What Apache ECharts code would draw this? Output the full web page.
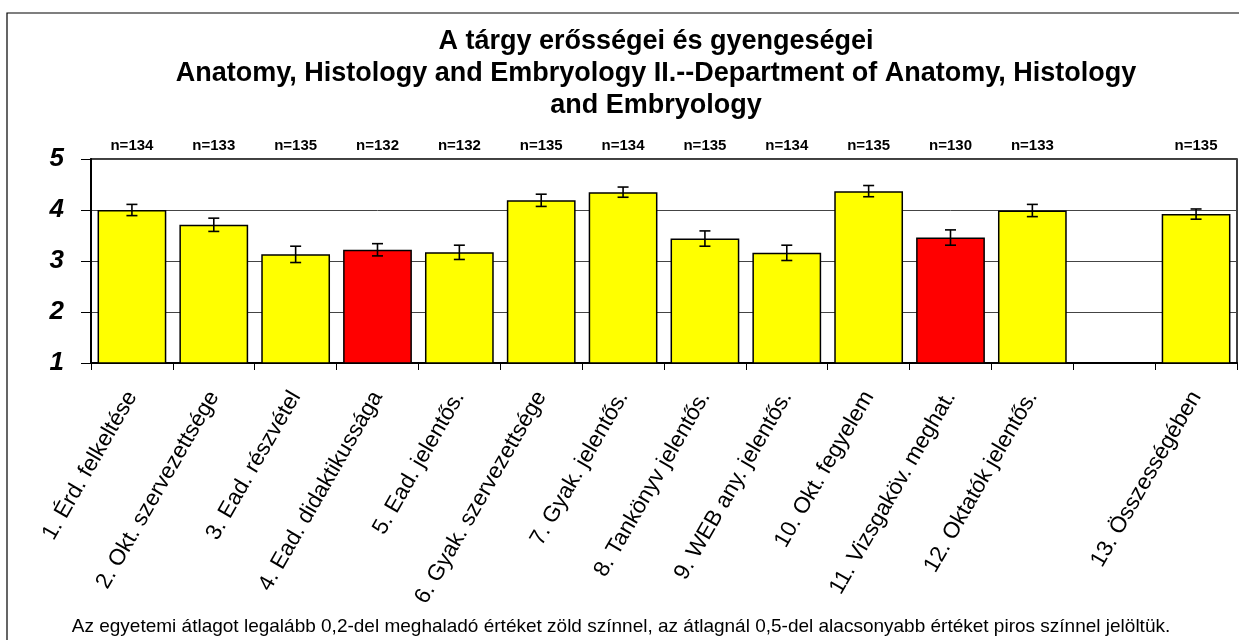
<!DOCTYPE html>
<html>
<head>
<meta charset="utf-8">
<script src="https://cdn.jsdelivr.net/npm/echarts@6/dist/echarts.min.js"></script>
<style>
  html, body { margin: 0; padding: 0; background: #fff; }
  #chart { width: 1239px; height: 640px; }
</style>
</head>
<body>
<div id="chart"></div>
<script>
// categories (slot 12 is an empty spacer column)
var categories = [
  '1. Érd. felkeltése', '2. Okt. szervezettsége', '3. Ead. részvétel',
  '4. Ead. didaktikussága', '5. Ead. jelentős.', '6. Gyak. szervezettsége',
  '7. Gyak. jelentős.', '8. Tankönyv jelentős.', '9. WEB any. jelentős.',
  '10. Okt. fegyelem', '11. Vizsgaköv. meghat.', '12. Oktatók jelentős.',
  '', '13. Összességében'
];
var nLabels = ['n=134', 'n=133', 'n=135', 'n=132', 'n=132', 'n=135', 'n=134',
  'n=135', 'n=134', 'n=135', 'n=130', 'n=133', '', 'n=135'];
var means = [4.00, 3.71, 3.13, 3.22, 3.17, 4.19, 4.35, 3.44, 3.16, 4.37, 3.46, 3.99, null, 3.92];
var errs  = [0.11, 0.13, 0.16, 0.12, 0.14, 0.12, 0.10, 0.15, 0.15, 0.11, 0.15, 0.12, null, 0.10];
// categories more than 0,5 below the university average (drawn red)
var lowIdx = [3, 10];
var yTicks = [1, 2, 3, 4, 5];

var titleLines = [
  'A tárgy erősségei és gyengeségei',
  'Anatomy, Histology and Embryology II.--Department of Anatomy, Histology',
  'and Embryology'
];
var footNote = 'Az egyetemi átlagot legalább 0,2-del meghaladó értéket zöld színnel, az átlagnál 0,5-del alacsonyabb értéket piros színnel jelöltük.';

var FONT = 'Arial, "Liberation Sans", sans-serif';

var barData = [];
var errData = [];
for (var i = 0; i < means.length; i++) {
  if (means[i] == null) {
    barData.push('-');
    continue;
  }
  barData.push({
    value: means[i],
    itemStyle: { color: lowIdx.indexOf(i) >= 0 ? '#ff0000' : '#ffff00' }
  });
  errData.push([i, means[i] - errs[i], means[i] + errs[i]]);
}

var myChart = echarts.init(document.getElementById('chart'));
myChart.setOption({
  animation: false,
  backgroundColor: '#fff',
  graphic: [
    {
      type: 'rect', z: -1, silent: true,
      shape: { x: 7, y: 13, width: 1260, height: 660 },
      style: { fill: null, stroke: '#000', lineWidth: 1.2 }
    },
    {
      type: 'text', x: 656, y: 26,
      style: {
        text: titleLines.join('\n'), textAlign: 'center', textVerticalAlign: 'top',
        font: 'bold 27px ' + FONT, lineHeight: 32, fill: '#000'
      }
    },
    {
      type: 'text', x: 621, y: 627,
      style: {
        text: footNote, textAlign: 'center', textVerticalAlign: 'middle',
        font: '19px ' + FONT, fill: '#000'
      }
    }
  ],
  grid: {
    show: true,
    left: 91, right: 2, top: 159, bottom: 277,
    borderColor: '#000', borderWidth: 1.5,
    containLabel: false
  },
  xAxis: [
    {
      type: 'category',
      data: categories,
      boundaryGap: true,
      axisLine: { lineStyle: { color: '#000', width: 2 } },
      axisTick: { show: true, interval: 0, length: 7, lineStyle: { color: '#000', width: 1 } },
      axisLabel: {
        interval: 0, rotate: 60, margin: 30,
        fontFamily: FONT, fontSize: 22.5, color: '#000'
      }
    },
    {
      type: 'category',
      data: nLabels,
      position: 'top',
      axisLine: { show: false },
      axisTick: { show: false },
      axisLabel: {
        interval: 0, margin: 6,
        fontFamily: FONT, fontSize: 15, fontWeight: 'bold', color: '#000'
      }
    }
  ],
  yAxis: {
    type: 'value',
    min: yTicks[0], max: yTicks[yTicks.length - 1], interval: 1,
    axisLine: { show: true, lineStyle: { color: '#000', width: 2 } },
    axisTick: { show: true, length: 10, lineStyle: { color: '#000', width: 1 } },
    axisLabel: {
      margin: 27,
      fontFamily: FONT, fontSize: 26, fontWeight: 'bold', fontStyle: 'italic', color: '#000'
    },
    splitLine: { show: true, lineStyle: { color: '#444', width: 1 } }
  },
  series: [
    {
      type: 'bar',
      data: barData,
      barCategoryGap: '16%',
      itemStyle: { borderColor: '#000', borderWidth: 1.5 }
    },
    {
      type: 'custom',
      data: errData,
      z: 5,
      renderItem: function (params, api) {
        var top = api.coord([api.value(0), api.value(2)]);
        var bot = api.coord([api.value(0), api.value(1)]);
        var w = 5.5;
        var st = { stroke: '#000', lineWidth: 1.6 };
        return {
          type: 'group',
          children: [
            { type: 'line', shape: { x1: top[0], y1: top[1], x2: bot[0], y2: bot[1] }, style: st },
            { type: 'line', shape: { x1: top[0] - w, y1: top[1], x2: top[0] + w, y2: top[1] }, style: st },
            { type: 'line', shape: { x1: bot[0] - w, y1: bot[1], x2: bot[0] + w, y2: bot[1] }, style: st }
          ]
        };
      }
    }
  ]
});
</script>
</body>
</html>
